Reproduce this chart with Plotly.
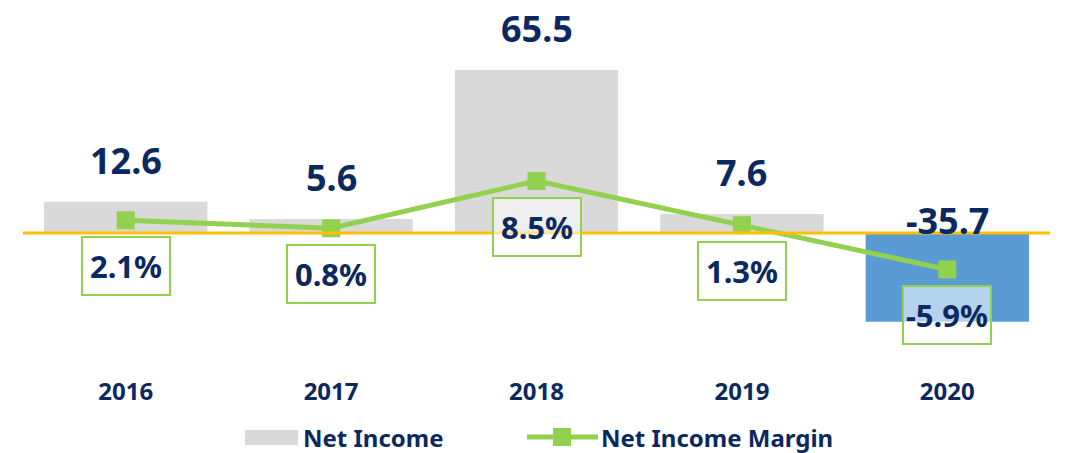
import plotly.graph_objects as go

years = ["2016", "2017", "2018", "2019", "2020"]
net_income = [12.6, 5.6, 65.5, 7.6, -35.7]
net_margin = [2.1, 0.8, 8.5, 1.3, -5.9]

navy = "#0b2860"
green = "#92d050"
font_family = "Noto Sans"

fig = go.Figure()

# Bars (grey, negative one in blue)
fig.add_trace(go.Bar(
    x=years, y=net_income, name="Net Income",
    marker=dict(color=["#5b9bd5" if v < 0 else "#d9d9d9" for v in net_income], line=dict(width=0)),
    width=0.795, yaxis="y", hoverinfo="skip"
))

# Margin line on second axis
fig.add_trace(go.Scatter(
    x=years, y=net_margin, name="Net Income Margin", yaxis="y2",
    mode="lines+markers",
    line=dict(color=green, width=5),
    marker=dict(symbol="square", size=18, color=green),
    hoverinfo="skip"
))

# Bar value labels (category index used, numeric-looking strings confuse annotations)
for i, v in enumerate(net_income):
    fig.add_annotation(
        x=i, y=max(v, 0), yref="y", text=f"<b>{v}</b>", showarrow=False,
        yshift=42 if v > 0 else 13, height=36, borderpad=0,
        font=dict(family=font_family, size=36, color=navy)
    )

# Margin labels in boxes
for i, m in enumerate(net_margin):
    fig.add_annotation(
        x=i, y=m, yref="y2", text=f"<b>{m}%</b>", showarrow=False,
        yshift=-46, width=86, height=56, borderpad=0,
        bordercolor=green, borderwidth=2, bgcolor="rgba(255,255,255,0.55)",
        font=dict(family=font_family, size=31, color=navy)
    )

# Zero line
fig.add_shape(type="line", xref="paper", yref="y", x0=0, x1=1, y0=0, y1=0,
              line=dict(color="#ffc000", width=3), layer="above")

# Manual legend (pixel guide: plot area spans x 23..1050, y 10..350 of the window)
def px(x):
    return (x - 23) / 1027


def py(y):
    return (350 - y) / 340


fig.add_shape(type="rect", xref="paper", yref="paper", layer="above",
              x0=px(245), x1=px(298), y0=py(430), y1=py(445),
              fillcolor="#d9d9d9", line=dict(width=0))
fig.add_annotation(xref="paper", yref="paper", x=px(301), y=py(437),
                   xanchor="left", yanchor="middle", showarrow=False, text="<b>Net Income</b>",
                   font=dict(family=font_family, size=24, color=navy))
fig.add_shape(type="line", xref="paper", yref="paper", layer="above",
              x0=px(527), x1=px(598), y0=py(437), y1=py(437),
              line=dict(color=green, width=5))
fig.add_shape(type="rect", xref="paper", yref="paper", layer="above",
              x0=px(553), x1=px(571), y0=py(428), y1=py(446),
              fillcolor=green, line=dict(width=0))
fig.add_annotation(xref="paper", yref="paper", x=px(599), y=py(437),
                   xanchor="left", yanchor="middle", showarrow=False, text="<b>Net Income Margin</b>",
                   font=dict(family=font_family, size=24, color=navy))

# the page body adds an 8px offset, margins compensate for it
fig.update_layout(
    width=1068, height=453,
    margin=dict(l=15, r=26, t=2, b=111),
    paper_bgcolor="white", plot_bgcolor="white",
    showlegend=False,
    xaxis=dict(type="category", range=[-0.5, 4.5], showgrid=False, zeroline=False, showline=False,
               ticks="outside", ticklen=20, tickcolor="rgba(0,0,0,0)",
               tickfont=dict(family=font_family, size=24, color=navy),
               tickprefix="<b>", ticksuffix="</b>"),
    yaxis=dict(range=[-47, 89.6], visible=False),
    yaxis2=dict(range=[-19.0, 36.3], overlaying="y", visible=False),
)

fig.write_html("out.html")
